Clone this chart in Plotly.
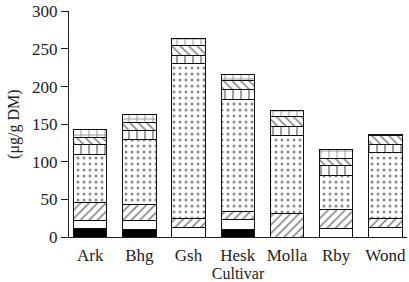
import plotly.graph_objects as go

categories = ["Ark", "Bhg", "Gsh", "Hesk", "Molla", "Rby", "Wond"]
solid_black = [11, 10, 0, 10, 0, 0, 0]
plain_white = [11, 12, 13, 13, 0, 11, 12]
diag_fwd = [24, 21, 11, 11, 31, 26, 12]
dotted = [64, 87, 207, 149, 104, 45, 88]
vertical = [13, 12, 11, 13, 12, 13, 11]
diag_back = [9, 10, 12, 12, 13, 10, 12]
grid = [11, 11, 10, 8, 8, 11, 1]

y_ticks = [0, 50, 100, 150, 200, 250, 300]

layers = [
    (solid_black, "black", "", 8, 0.3),
    (plain_white, "white", "", 8, 0.3),
    (diag_fwd, "white", "/", 6, 0.28),
    (dotted, "white", ".", 6, 0.2),
    (vertical, "white", "|", 8, 0.2),
    (diag_back, "white", "\\", 6, 0.28),
    (grid, "white", "+", 8, 0.2),
]

fig = go.Figure()
for vals, color, shape, size, sol in layers:
    marker = dict(color=color, line=dict(color="#111", width=1))
    if shape:
        marker["pattern"] = dict(shape=shape, fgcolor="#111", bgcolor="white",
                                 size=size, solidity=sol, fillmode="overlay")
    fig.add_trace(go.Bar(x=categories, y=vals, marker=marker, width=0.68,
                         showlegend=False))

font_family = "Liberation Serif"
fig.update_layout(
    barmode="stack",
    width=409, height=282,
    margin=dict(l=69, r=2, t=8, b=45),
    plot_bgcolor="white", paper_bgcolor="white",
    font=dict(family=font_family, size=17, color="#222"),
)
fig.update_xaxes(
    range=[-0.43, 6.44],
    showline=True, linecolor="#222", linewidth=1,
    ticks="", showgrid=False, ticklabelstandoff=3,
    title=dict(text="Cultivar", font=dict(size=16), standoff=3),
)
fig.update_yaxes(
    range=[0, 300.5], tickvals=y_ticks,
    showline=True, linecolor="#222", linewidth=1,
    ticks="outside", ticklen=7, tickcolor="#222",
    showgrid=False, zeroline=False, ticklabeloverflow="allow",
)
fig.add_annotation(
    text="(μg/g DM)", textangle=-90, xref="paper", yref="paper",
    x=-0.163, y=0.5, xanchor="center", yanchor="middle",
    showarrow=False, font=dict(size=16, family=font_family, color="#222"),
)
fig.write_html("out.html", config={"displayModeBar": False},
               post_script="document.body.style.margin='0';document.body.style.padding='0';")
